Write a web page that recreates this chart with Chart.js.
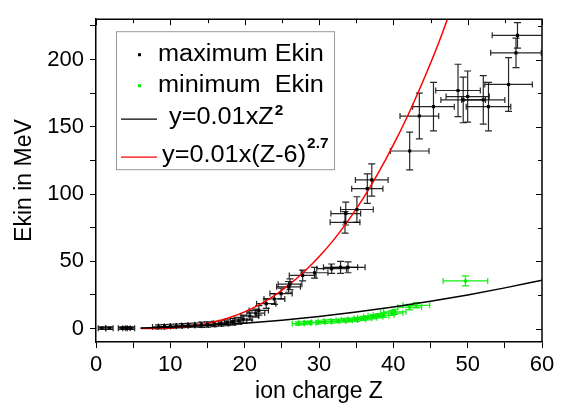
<!DOCTYPE html>
<html>
<head>
<meta charset="utf-8">
<script src="https://cdn.jsdelivr.net/npm/chart.js@4.4.0/dist/chart.umd.min.js"></script>
<style>
  html, body { margin: 0; padding: 0; background: #fff; }
  canvas { display: block; }
</style>
</head>
<body>
<canvas id="chart" width="564" height="405"></canvas>
<script>
// maximum Ekin (black points)
const maxZ    = [0.8, 1.8, 3.5, 4.1, 4.7, 8.4, 9.2, 10.0, 10.8, 11.6, 12.4, 13.3, 14.2, 15.0, 15.9, 16.8, 17.6, 18.4, 19.2, 19.8,
                 20.7, 21.5, 21.9, 22.9, 24.0, 24.9, 25.9, 26.1, 27.8, 29.4, 31.7, 32.9, 33.9,
                 33.5, 33.6, 35.1, 36.5, 37.1, 42.2, 43.5, 45.4, 48.7, 49.4, 50.0, 52.1, 52.8, 55.5, 56.5, 56.7];
const maxE    = [0.3, 0.3, 0.3, 0.3, 0.3, 1.2, 1.5, 1.7, 1.9, 2.1, 2.3, 2.5, 2.8, 3.0, 3.4, 3.8, 4.3, 5.0, 5.8, 7.0,
                 9.3, 11.5, 13.5, 18.5, 22.0, 26.0, 31.0, 33.0, 39.5, 41.5, 44.5, 45.5, 45.5,
                 79, 85.5, 88.5, 104, 110.5, 132, 158, 165, 177, 170, 172.5, 170, 165, 181.5, 205, 218];
const maxZErr = [0.5, 0.5, 0.5, 0.5, 0.5, 0.8, 0.8, 0.8, 0.8, 0.8, 0.9, 0.9, 0.9, 1.0, 1.0, 1.0, 1.1, 1.1, 1.1, 1.2,
                 1.2, 1.2, 1.3, 1.3, 1.4, 1.5, 1.6, 1.6, 1.8, 1.8, 2.0, 2.3, 2.3,
                 2.0, 2.0, 2.2, 2.1, 2.2, 2.6, 2.6, 2.8, 3.0, 3.0, 2.9, 2.9, 3.0, 3.2, 3.4, 3.4];
const maxEErr = [1, 1, 1, 1, 1, 1.5, 1.5, 1.5, 1.5, 1.5, 1.5, 1.5, 2, 2, 2, 2, 2.2, 2.5, 2.5, 3,
                 3, 3, 3.5, 3.5, 4, 4, 4, 4, 4, 4, 3.5, 4.5, 4,
                 8, 8.5, 9.5, 11, 12, 14, 17, 18, 19.5, 17, 19, 18, 18, 20, 11, 9.5];

// minimum Ekin (green points)
const minZ    = [27.2, 28.1, 28.8, 29.9, 30.8, 31.7, 32.6, 33.4, 34.1, 35.1, 35.9, 36.5, 37.3, 38.0, 38.7, 39.8, 40.2, 42.2, 43.1, 49.7];
const minE    = [3.7, 4.1, 4.4, 4.6, 5.1, 5.4, 5.6, 6.1, 6.3, 6.8, 7.6, 8.0, 8.8, 9.5, 10.0, 11.5, 12.4, 15.9, 17.3, 35.4];
const minZErr = [0.8, 0.8, 0.8, 0.9, 0.9, 1.0, 1.0, 1.1, 1.1, 1.2, 1.2, 1.3, 1.3, 1.4, 1.4, 1.5, 1.5, 1.6, 1.8, 3.0];
const minEErr = [1.2, 1.2, 1.2, 1.2, 1.3, 1.3, 1.3, 1.4, 1.4, 1.5, 1.5, 1.5, 1.6, 1.6, 1.7, 1.8, 1.8, 2.0, 2.0, 3.7];

// y=0.01xZ^2 (black curve)
const quadZ = [6, 10, 15, 20, 25, 30, 35, 40, 45, 50, 55, 60];
const quadE = [0.36, 1.0, 2.25, 4.0, 6.25, 9.0, 12.25, 16.0, 20.25, 25.0, 30.25, 36.0];

// y=0.01x(Z-6)^2.7 (red curve)
const fitZ = [6, 8, 10, 12, 14, 16, 18, 20, 22, 24, 26, 28, 30, 32, 34, 36, 38, 40, 42, 44, 46, 48];
const fitE = [0, 0.07, 0.42, 1.26, 2.74, 5.0, 8.2, 12.4, 17.8, 24.5, 32.6, 42.2, 53.3, 66.1, 80.8, 97.3, 115.9, 136.5, 159, 184, 211, 241];

const FONT = "'Liberation Sans', Arial, sans-serif";

const toPoints = (xs, ys) => xs.map((v, i) => ({x: v, y: ys[i]}));

const errorBars = {
  id: 'errorBars',
  beforeDatasetsDraw(chart) {
    const {ctx, chartArea, scales: {x, y}} = chart;
    ctx.save();
    ctx.beginPath();
    ctx.rect(chartArea.left, chartArea.top, chartArea.width, chartArea.height);
    ctx.clip();
    ctx.lineWidth = 1.2;
    chart.data.datasets.forEach(ds => {
      if (!ds.errX) return;
      ctx.strokeStyle = ds.errColor;
      ds.data.forEach((p, i) => {
        const px = x.getPixelForValue(p.x);
        const py = y.getPixelForValue(p.y);
        const x0 = x.getPixelForValue(p.x - ds.errX[i]);
        const x1 = x.getPixelForValue(p.x + ds.errX[i]);
        const y0 = y.getPixelForValue(p.y - ds.errY[i]);
        const y1 = y.getPixelForValue(p.y + ds.errY[i]);
        ctx.beginPath();
        ctx.moveTo(x0, py); ctx.lineTo(x1, py);
        ctx.moveTo(x0, py - 3); ctx.lineTo(x0, py + 3);
        ctx.moveTo(x1, py - 3); ctx.lineTo(x1, py + 3);
        ctx.moveTo(px, y0); ctx.lineTo(px, y1);
        ctx.moveTo(px - 3.5, y0); ctx.lineTo(px + 3.5, y0);
        ctx.moveTo(px - 3.5, y1); ctx.lineTo(px + 3.5, y1);
        ctx.stroke();
      });
    });
    ctx.restore();
  }
};

// top/right frame with inward ticks, and the legend box
const frameAndLegend = {
  id: 'frameAndLegend',
  afterDraw(chart) {
    const {ctx, chartArea: a, scales: {x, y}} = chart;
    ctx.save();
    ctx.strokeStyle = '#000';
    ctx.lineWidth = 1.5;
    ctx.beginPath();
    ctx.moveTo(a.left, a.top); ctx.lineTo(a.right, a.top); ctx.lineTo(a.right, a.bottom);
    ctx.stroke();
    ctx.lineWidth = 1;
    ctx.beginPath();
    x.ticks.forEach(t => {
      const px = Math.round(x.getPixelForValue(t.value)) + 0.5;
      const len = t.value % 10 === 0 ? 6 : 4;
      ctx.moveTo(px, a.top); ctx.lineTo(px, a.top + len);
    });
    y.ticks.forEach(t => {
      const py = Math.round(y.getPixelForValue(t.value)) + 0.5;
      const len = t.value % 50 === 0 ? 6 : 4;
      ctx.moveTo(a.right, py); ctx.lineTo(a.right - len, py);
    });
    ctx.stroke();

    // legend
    const lx = a.left + 20, ly = a.top + 12;
    ctx.fillStyle = '#fff';
    ctx.fillRect(lx, ly, 218, 138);
    ctx.strokeStyle = '#999';
    ctx.lineWidth = 1;
    ctx.strokeRect(lx + 0.5, ly + 0.5, 218, 138);

    ctx.fillStyle = '#000';
    ctx.fillRect(lx + 22, ly + 22, 3, 3);
    ctx.fillStyle = '#00ee00';
    ctx.fillRect(lx + 22, ly + 53, 3, 3);

    ctx.lineWidth = 1.2;
    ctx.strokeStyle = '#000';
    ctx.beginPath(); ctx.moveTo(lx + 5, ly + 88); ctx.lineTo(lx + 41, ly + 88); ctx.stroke();
    ctx.strokeStyle = '#ff0000';
    ctx.beginPath(); ctx.moveTo(lx + 5, ly + 126); ctx.lineTo(lx + 41, ly + 126); ctx.stroke();

    const text = (s, tx, ty, font) => {
      ctx.save();
      ctx.translate(tx, ty);
      ctx.scale(1.1, 1);
      ctx.font = font;
      ctx.fillText(s, 0, 0);
      const w = ctx.measureText(s).width * 1.1;
      ctx.restore();
      return w;
    };
    ctx.fillStyle = '#000';
    ctx.textBaseline = 'alphabetic';
    text('maximum Ekin', lx + 42, ly + 30, '23px ' + FONT);
    text('minimum  Ekin', lx + 42, ly + 61, '23px ' + FONT);
    let w = text('y=0.01xZ', lx + 53, ly + 93, '23px ' + FONT);
    text('2', lx + 54 + w, ly + 84, 'bold 14px ' + FONT);
    w = text('y=0.01x(Z-6)', lx + 46, ly + 131, '23px ' + FONT);
    text('2.7', lx + 47 + w, ly + 117, 'bold 14px ' + FONT);
    ctx.restore();
  }
};

new Chart(document.getElementById('chart').getContext('2d'), {
  type: 'scatter',
  data: {
    datasets: [{
      label: 'maximum Ekin',
      data: toPoints(maxZ, maxE),
      errX: maxZErr,
      errY: maxEErr,
      errColor: 'rgba(0,0,0,0.85)',
      pointStyle: 'rect',
      pointRadius: 2.2,
      backgroundColor: '#000',
      borderColor: '#000',
      borderWidth: 0
    }, {
      label: 'minimum  Ekin',
      data: toPoints(minZ, minE),
      errX: minZErr,
      errY: minEErr,
      errColor: '#11ee11',
      pointStyle: 'rect',
      pointRadius: 2.2,
      backgroundColor: '#00ee00',
      borderColor: '#00ee00',
      borderWidth: 0
    }, {
      type: 'line',
      label: 'y=0.01xZ2',
      data: toPoints(quadZ, quadE),
      borderColor: '#000',
      borderWidth: 1.5,
      pointRadius: 0,
      cubicInterpolationMode: 'monotone'
    }, {
      type: 'line',
      label: 'y=0.01x(Z-6)2.7',
      data: toPoints(fitZ, fitE),
      borderColor: '#ff0000',
      borderWidth: 1.5,
      pointRadius: 0,
      cubicInterpolationMode: 'monotone'
    }]
  },
  options: {
    responsive: false,
    animation: false,
    layout: { padding: { top: 14, right: 22, left: 0, bottom: 0 } },
    plugins: {
      legend: { display: false },
      tooltip: { enabled: false }
    },
    scales: {
      x: {
        type: 'linear',
        min: 0,
        max: 60,
        afterFit: (s) => { s.height = 63; },
        ticks: {
          stepSize: 5,
          includeBounds: false,
          autoSkip: false,
          maxRotation: 0,
          padding: 4,
          color: '#000',
          font: { family: FONT, size: 22 },
          callback: (v) => v % 10 === 0 ? v : ''
        },
        grid: { drawOnChartArea: false, tickLength: 6, tickColor: '#000' },
        border: { color: '#000', width: 1.5 },
        title: {
          display: true,
          text: 'ion charge Z',
          color: '#000',
          font: { family: FONT, size: 23 },
          padding: { top: 0, bottom: 0 }
        }
      },
      y: {
        min: -10,
        max: 230,
        afterFit: (s) => { s.width = 96; },
        ticks: {
          stepSize: 25,
          includeBounds: false,
          autoSkip: false,
          padding: 6,
          color: '#000',
          font: { family: FONT, size: 22 },
          callback: (v) => v % 50 === 0 ? v : ''
        },
        grid: { drawOnChartArea: false, tickLength: 6, tickColor: '#000' },
        border: { color: '#000', width: 1.5 },
        title: {
          display: true,
          text: 'Ekin in MeV',
          color: '#000',
          font: { family: FONT, size: 23 },
          padding: { top: 11, bottom: 0 }
        }
      }
    }
  },
  plugins: [errorBars, frameAndLegend]
});
</script>
</body>
</html>
